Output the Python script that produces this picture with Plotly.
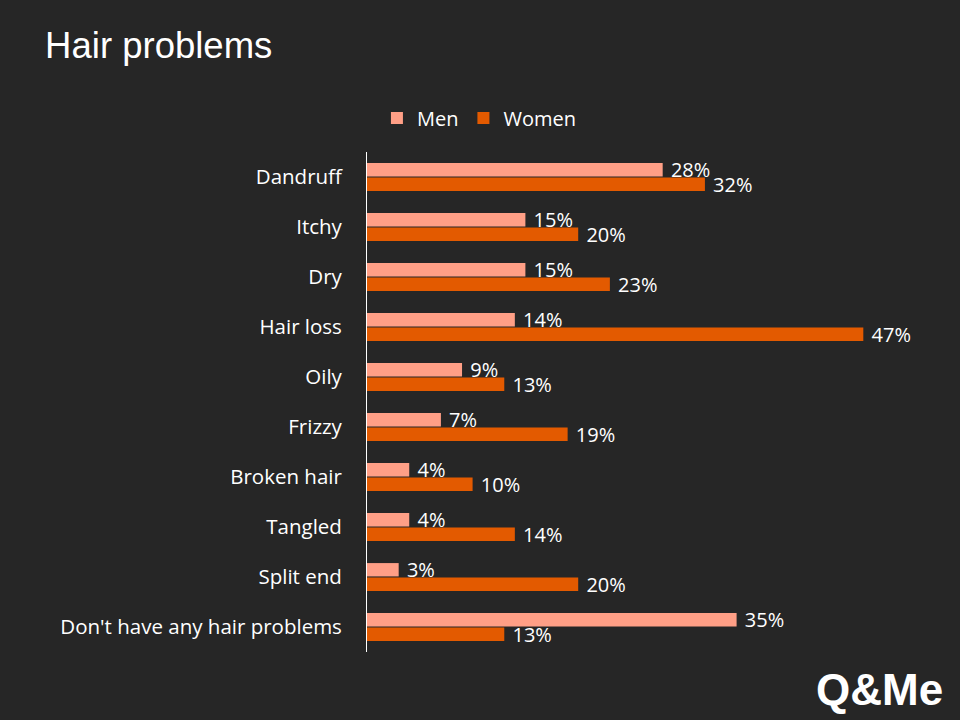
import plotly.graph_objects as go

categories = ["Dandruff", "Itchy", "Dry", "Hair loss", "Oily", "Frizzy",
              "Broken hair", "Tangled", "Split end", "Don't have any hair problems"]
men = [28, 15, 15, 14, 9, 7, 4, 4, 3, 35]
women = [32, 20, 23, 47, 13, 19, 10, 14, 20, 13]

BG = "#262626"
MEN_C = "#FF9F86"
WOMEN_C = "#E35A00"
FONT = "Open Sans"

fig = go.Figure()
fig.add_trace(go.Bar(
    y=categories, x=men, name="Men", orientation="h",
    marker=dict(color=MEN_C, line=dict(width=0)),
    text=[f"\u00a0{v}%" for v in men], textposition="outside", constraintext="none",
    textfont=dict(color="white", size=20, family=FONT), cliponaxis=False,
))
fig.add_trace(go.Bar(
    y=categories, x=women, name="Women", orientation="h",
    marker=dict(color=WOMEN_C, line=dict(width=0)),
    text=[f"\u00a0{v}%" for v in women], textposition="outside", constraintext="none",
    textfont=dict(color="white", size=20, family=FONT), cliponaxis=False,
))

fig.update_layout(
    width=960, height=720,
    paper_bgcolor=BG, plot_bgcolor=BG,
    barmode="group", bargap=0.42, bargroupgap=0.08,
    margin=dict(l=367, r=65, t=152, b=68),
    font=dict(family=FONT, color="white", size=20),
    title=dict(text="Hair problems", x=0.047, xanchor="left", y=0.937, yanchor="middle",
               font=dict(family="Liberation Sans, Arial", size=36.5, color="white")),
    legend=dict(orientation="h", x=0.212, xanchor="center", y=1.068, yanchor="middle",
                font=dict(size=20, color="white", family=FONT),
                itemwidth=30, traceorder="normal"),
    showlegend=True,
)
fig.update_xaxes(range=[0, 50], visible=False, showgrid=False, zeroline=False)
fig.update_yaxes(autorange="reversed", showgrid=False, zeroline=False,
                 showline=True, linecolor="white", linewidth=1,
                 ticks="", ticklabelstandoff=20,
                 tickfont=dict(size=20.5, color="white", family=FONT))

fig.add_annotation(text="<b>Q&amp;Me</b>", xref="paper", yref="paper",
                   x=1.095, y=-0.074, xanchor="right", yanchor="middle",
                   showarrow=False,
                   font=dict(family="Liberation Sans, Arial", size=44, color="white"))

fig.write_html("out.html", config={"displayModeBar": False},
               post_script="document.body.style.margin='0';")
